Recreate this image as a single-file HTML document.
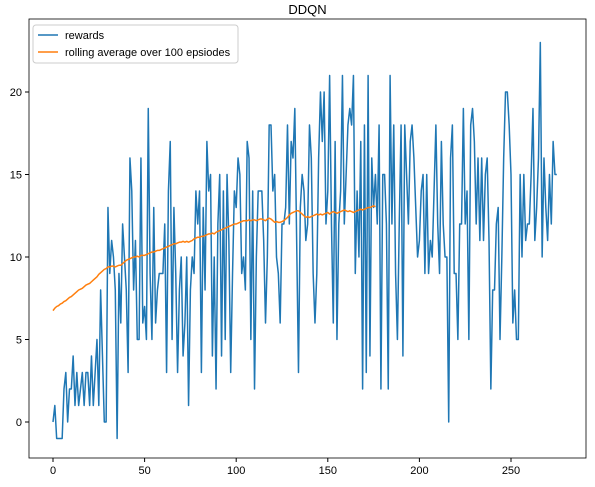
<!DOCTYPE html>
<html><head><meta charset="utf-8"><style>
body{margin:0;background:#fff;font-family:"Liberation Sans","DejaVu Sans",sans-serif}
svg text{font-family:"Liberation Sans","DejaVu Sans",sans-serif;font-size:11px;fill:#000}
</style></head><body>
<svg id="c" width="595" height="482"></svg>
<script>
const rewards=[0,1,-1,-1,-1,-1,2,3,0,2,
2,4,1,3,1,2,3,1,3,3,
1,4,1,3,5,1,8,4,0,0,
13,9,11,10,8,-1,9,6,12,10,
8,3,16,14,8,11,5,5,16,6,
7,5,19,9,5,13,6,8,9,9,
9,12,3,14,17,5,13,9,3,8,
10,4,6,10,1,8,10,9,14,12,
14,3,13,8,17,14,15,4,10,2,
12,15,4,14,5,15,11,3,9,14,
13,16,15,9,10,8,17,16,5,14,
2,10,14,14,14,11,6,10,18,18,
14,15,10,9,6,12,12,13,18,12,
17,16,19,11,3,13,15,14,11,12,
18,16,9,6,9,16,20,17,20,12,
14,21,12,6,17,5,12,14,21,12,
15,18,19,18,21,9,14,10,17,2,
18,3,21,4,16,13,15,12,18,2,
15,15,12,2,21,12,18,9,5,12,
18,4,18,15,12,17,18,16,13,10,
11,14,15,9,15,9,11,10,14,18,
12,9,17,12,10,10,0,16,18,9,
9,5,12,12,19,12,14,5,18,19,
17,12,16,11,16,11,15,16,11,2,
8,8,12,13,5,10,16,20,20,18,
15,6,8,5,5,15,10,15,11,12,
12,15,19,11,13,16,23,10,16,13,
11,15,12,17,15,15];
const rolling=[6.75,6.9,7.0,7.05,7.15,7.2,7.3,7.35,7.45,7.55,
7.6,7.7,7.8,7.9,8.0,8.05,8.1,8.2,8.3,8.35,
8.4,8.5,8.6,8.7,8.8,8.95,9.05,9.15,9.25,9.3,
9.4,9.4,9.45,9.45,9.4,9.45,9.5,9.5,9.6,9.7,
9.8,9.85,9.9,9.95,10.0,10.0,10.05,10.0,10.1,10.1,
10.1,10.15,10.2,10.25,10.3,10.3,10.35,10.4,10.4,10.45,
10.5,10.55,10.6,10.65,10.7,10.75,10.8,10.8,10.85,10.9,
10.9,10.95,10.9,10.95,10.9,10.95,11.0,11.1,11.15,11.2,
11.2,11.25,11.25,11.3,11.35,11.4,11.4,11.45,11.4,11.5,
11.55,11.6,11.65,11.7,11.75,11.8,11.85,11.9,11.95,12.0,
12.0,12.05,12.1,12.15,12.2,12.2,12.2,12.25,12.2,12.25,
12.25,12.2,12.25,12.3,12.3,12.25,12.2,12.3,12.35,12.3,
12.2,12.1,12.15,12.1,12.1,12.15,12.2,12.3,12.4,12.55,
12.65,12.7,12.75,12.8,12.8,12.7,12.6,12.5,12.4,12.45,
12.4,12.45,12.5,12.55,12.6,12.55,12.6,12.55,12.6,12.65,
12.7,12.6,12.7,12.75,12.7,12.65,12.7,12.75,12.8,12.85,
12.8,12.75,12.8,12.75,12.7,12.75,12.8,12.85,12.9,12.85,
12.9,12.95,13.0,13.0,13.05,13.1,13.05];
const xTicks=[0,50,100,150,200,250];
const yTicks=[0,5,10,15,20];
const L=29,R=586,T=19,B=458;
const xs=v=>53+v*(511-53)/250;
const ys=v=>422-v*(422-92)/20;
const svg=document.getElementById('c');
const NS='http://www.w3.org/2000/svg';
function mk(tag,attrs,parent){const e=document.createElementNS(NS,tag);for(const k in attrs)e.setAttribute(k,attrs[k]);(parent||svg).appendChild(e);return e;}
const title=mk('text',{x:(L+R)/2,y:14,'text-anchor':'middle','font-size':'13'});


title.textContent='DDQN';title.style.fontSize='13px';
xTicks.forEach(t=>{
 const l=mk('line',{x1:xs(t),x2:xs(t),y1:B,y2:B+4,stroke:'#000'});
 
 
 const tx=mk('text',{x:xs(t),y:B+16,'text-anchor':'middle'});
 
 
 tx.textContent=t;
});
yTicks.forEach(t=>{
 const l=mk('line',{x1:L-4,x2:L,y1:ys(t),y2:ys(t),stroke:'#000'});
 
 
 const tx=mk('text',{x:L-7,y:ys(t)+4,'text-anchor':'end'});
 
 
 tx.textContent=t;
});
const p1=mk('polyline',{points:rewards.map((v,i)=>xs(i)+','+ys(v)).join(' '),fill:'none',stroke:'#1f77b4','stroke-width':1.5,'stroke-linejoin':'round'});


const p2=mk('polyline',{points:rolling.map((v,i)=>xs(i)+','+ys(v)).join(' '),fill:'none',stroke:'#ff7f0e','stroke-width':1.5,'stroke-linejoin':'round'});


const fr=mk('rect',{x:L,y:T,width:R-L,height:B-T,fill:'none',stroke:'#000','stroke-width':0.8});


const lg=mk('g',{});


mk('rect',{x:33,y:25,width:205,height:38,rx:3,fill:'#fff',stroke:'#ccc'},lg);
mk('line',{x1:38,x2:58,y1:35,y2:35,stroke:'#1f77b4','stroke-width':1.5},lg);
const t1=mk('text',{x:65,y:39},lg);t1.textContent='rewards';


mk('line',{x1:38,x2:58,y1:52,y2:52,stroke:'#ff7f0e','stroke-width':1.5},lg);
const t2=mk('text',{x:65,y:56},lg);t2.textContent='rolling average over 100 epsiodes';


</script>
</body></html>
